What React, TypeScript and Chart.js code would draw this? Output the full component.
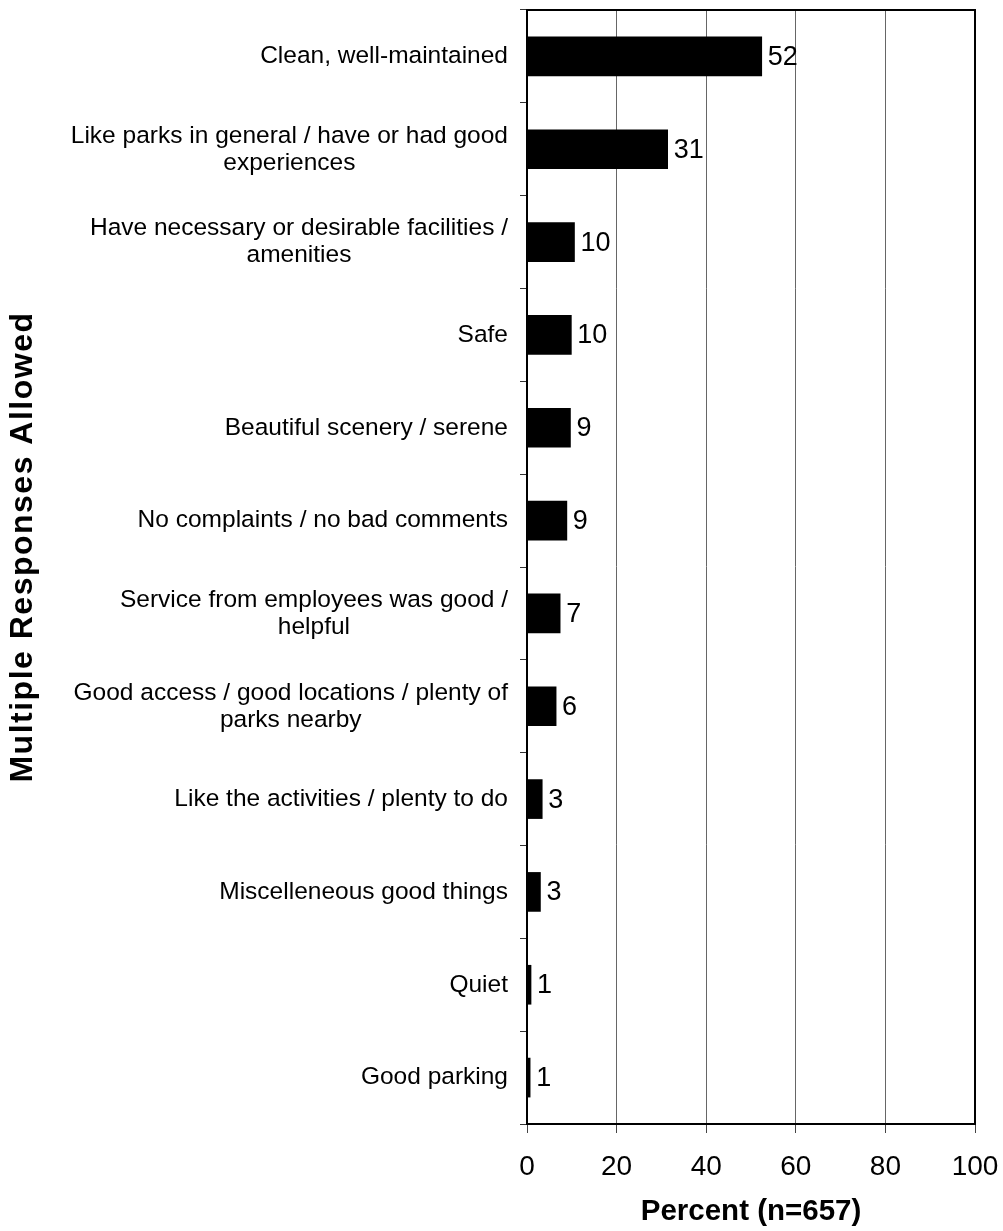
import React, { useEffect, useRef } from "react";
import { Chart, registerables } from "chart.js";

Chart.register(...registerables);

const categories: (string | string[])[] = [
  "Clean, well-maintained",
  ["Like parks in general / have or had good", "experiences"],
  ["Have necessary or desirable facilities /", "amenities"],
  "Safe",
  "Beautiful scenery / serene",
  "No complaints / no bad comments",
  ["Service from employees was good /", "helpful"],
  ["Good access / good locations / plenty of", "parks nearby"],
  "Like the activities / plenty to do",
  "Miscelleneous good things",
  "Quiet",
  "Good parking",
];

const percentValues = [52.4, 31.4, 10.6, 9.9, 9.7, 8.9, 7.4, 6.5, 3.4, 3.0, 0.9, 0.7];
const valueLabels = ["52", "31", "10", "10", "9", "9", "7", "6", "3", "3", "1", "1"];

const xMin = 0;
const xMax = 100;
const xStep = 20;
const xTitle = "Percent (n=657)";
const yTitle = "Multiple Responses Allowed";

const FONT = "'Liberation Sans', Arial, Helvetica, sans-serif";

const customPlugin = {
  id: "customDraw",
  afterDraw(chart: any) {
    const ctx: CanvasRenderingContext2D = chart.ctx;
    const area = chart.chartArea;
    const yScale = chart.scales.y;
    ctx.save();
    // frame (top and right)
    ctx.strokeStyle = "#000";
    ctx.lineWidth = 2;
    ctx.beginPath();
    ctx.moveTo(area.left, area.top);
    ctx.lineTo(area.right, area.top);
    ctx.lineTo(area.right, area.bottom);
    ctx.stroke();

    // category labels: block right-aligned, lines centered
    ctx.fillStyle = "#000";
    ctx.font = `24.5px ${FONT}`;
    ctx.textBaseline = "middle";
    ctx.textAlign = "center";
    const rightEdge = area.left - 19;
    categories.forEach((lab, i) => {
      const lines = Array.isArray(lab) ? lab : [lab];
      const maxW = Math.max(...lines.map((l) => ctx.measureText(l).width));
      const cx = rightEdge - maxW / 2;
      const cy = yScale.getPixelForValue(i);
      lines.forEach((l, j) => {
        ctx.fillText(l, cx, cy + (j - (lines.length - 1) / 2) * 27);
      });
    });

    // value labels
    ctx.textAlign = "left";
    ctx.font = `27px ${FONT}`;
    const meta = chart.getDatasetMeta(0);
    meta.data.forEach((bar: any, i: number) => {
      ctx.fillText(valueLabels[i], bar.x + 6, bar.y + 1);
    });

    // y-axis title
    ctx.save();
    ctx.translate(23, (area.top + area.bottom) / 2 - 20);
    ctx.rotate(-Math.PI / 2);
    ctx.font = `bold 32px ${FONT}`;
    (ctx as any).letterSpacing = "1.5px";
    ctx.textAlign = "center";
    ctx.textBaseline = "middle";
    ctx.fillText(yTitle, 0, 0);
    ctx.restore();

    ctx.restore();
  },
};

export default function App() {
  const canvasRef = useRef<HTMLCanvasElement | null>(null);

  useEffect(() => {
    if (!canvasRef.current) return;
    const chart = new Chart(canvasRef.current, {
      type: "bar",
      data: {
        labels: categories as any,
        datasets: [
          {
            data: percentValues,
            backgroundColor: "#000",
            borderWidth: 0,
            barThickness: 39,
          },
        ],
      },
      options: {
        indexAxis: "y",
        responsive: false,
        animation: false,
        layout: { padding: { top: 10, right: 28, left: 0, bottom: 0 } },
        plugins: {
          legend: { display: false },
          tooltip: { enabled: false },
          title: { display: false },
        },
        scales: {
          x: {
            type: "linear",
            position: "bottom",
            min: xMin,
            max: xMax,
            ticks: {
              stepSize: xStep,
              color: "#000",
              font: { size: 28, family: FONT },
              padding: 17,
              maxRotation: 0,
            },
            grid: {
              color: "#666",
              lineWidth: 1,
              tickLength: 9,
              drawTicks: true,
              tickColor: "#444",
            },
            border: { display: true, color: "#000", width: 2 },
            title: {
              display: true,
              text: xTitle,
              color: "#000",
              font: { size: 29.5, weight: "bold", family: FONT },
              padding: { top: 0, bottom: 1 },
            },
            afterFit: (s: any) => {
              s.height = 107;
              s.paddingRight = 0;
              s.paddingLeft = 0;
            },
          },
          y: {
            type: "category",
            position: "left",
            offset: true,
            ticks: { display: false },
            grid: {
              offset: true,
              drawOnChartArea: false,
              drawTicks: true,
              tickLength: 7,
              color: "#333",
            },
            border: { display: true, color: "#000", width: 2 },
            afterFit: (s: any) => {
              s.width = 527;
            },
          },
        },
      } as any,
      plugins: [customPlugin],
    });
    return () => chart.destroy();
  }, []);

  return (
    <div style={{ position: "absolute", left: 0, top: 0, width: 1003, height: 1231 }}>
      <canvas ref={canvasRef} width={1003} height={1231} style={{ display: "block" }} />
    </div>
  );
}
